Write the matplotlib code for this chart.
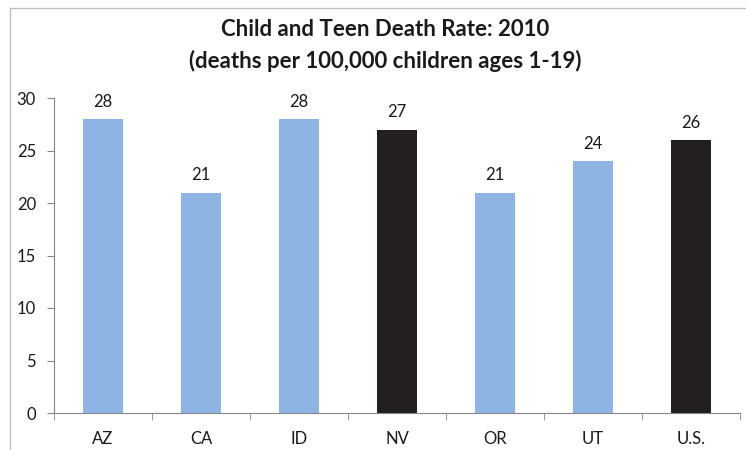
import numpy as np
import matplotlib.pyplot as plt
from matplotlib.patches import Rectangle

# datos
states = ['AZ', 'CA', 'ID', 'NV', 'OR', 'UT', 'U.S.']
rates = [28, 21, 28, 27, 21, 24, 26]
highlight = ['NV', 'U.S.']
title_lines = ['Child and Teen Death Rate: 2010',
               '(deaths per 100,000 children ages 1-19)']

plt.rcParams['font.family'] = ['Lato', 'DejaVu Sans']

blue = '#8EB4E3'
black = '#231F20'
axis_gray = '#868686'
text_color = '#1A1A1A'

fig = plt.figure(figsize=(7.46, 4.5), dpi=100)
ax = fig.add_axes([54 / 746, 1 - 413 / 450, 686 / 746, 315 / 450])

x = np.arange(len(states))
colors = [black if s in highlight else blue for s in states]
bars = ax.bar(x, rates, width=0.4, color=colors)

for b, v in zip(bars, rates):
    ax.text(b.get_x() + b.get_width() / 2, v + 0.9, str(v),
            ha='center', va='bottom', fontsize=12, color=text_color)

ax.set_xlim(-0.5, len(states) - 0.5)
ax.set_ylim(0, 30)
ax.set_yticks(range(0, 31, 5))
ax.set_xticks(x)
ax.set_xticklabels(states)
ax.set_xticks(np.arange(-0.5, len(states), 1), minor=True)

ax.tick_params(axis='x', which='major', length=0, pad=13, labelsize=12,
               labelcolor=text_color)
ax.tick_params(axis='x', which='minor', length=5, color=axis_gray, direction='out')
ax.tick_params(axis='y', length=5, color=axis_gray, direction='out', pad=8,
               labelsize=12, labelcolor=text_color)

for side in ['top', 'right']:
    ax.spines[side].set_visible(False)
for side in ['left', 'bottom']:
    ax.spines[side].set_color(axis_gray)

fig.text(385 / 746, 1 - 30 / 450, title_lines[0], ha='center', va='center',
         fontsize=16, fontweight='bold', color=text_color)
fig.text(385 / 746, 1 - 61 / 450, title_lines[1], ha='center', va='center',
         fontsize=16, fontweight='bold', color=text_color)

# marco del grafico
frame = Rectangle((10 / 746, -0.2), 1.2, 1.2 - 8 / 450, transform=fig.transFigure,
                  fill=False, edgecolor='#BFBFBF', linewidth=1)
fig.patches.append(frame)

fig.savefig('out.png', dpi=100)
